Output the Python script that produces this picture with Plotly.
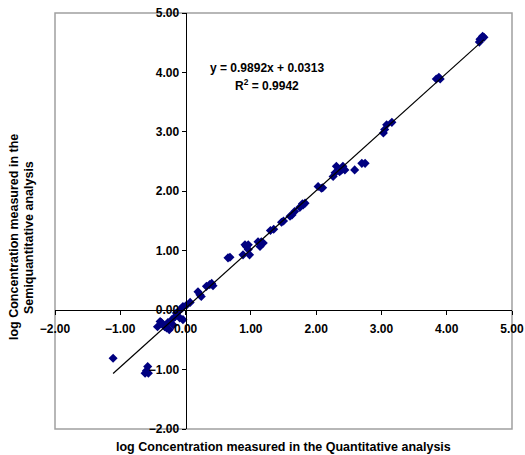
import plotly.graph_objects as go

# Data (log concentrations)
quant_x = [
    -1.11, -0.62, -0.57, -0.58, -0.60,
    -0.43, -0.39, -0.37, -0.32, -0.29, -0.27, -0.25, -0.21, -0.19, -0.16, -0.14,
    -0.09, -0.09, -0.06, -0.04, -0.04, 0.02, 0.07,
    0.19, 0.22, 0.24, 0.32, 0.37, 0.40, 0.42,
    0.65, 0.68, 0.88, 0.91, 0.93, 0.96, 0.96, 0.98, 1.11, 1.16, 1.14, 1.19,
    1.30, 1.35, 1.47, 1.50, 1.60, 1.63, 1.67, 1.75, 1.79, 1.80, 1.83,
    2.03, 2.08, 2.10, 2.26, 2.29, 2.31, 2.36, 2.39, 2.41, 2.44, 2.59, 2.70, 2.75,
    3.03, 3.05, 3.08, 3.16,
    3.84, 3.88, 3.90,
    4.50, 4.51, 4.55, 4.57,
]
semi_y = [
    -0.81, -1.06, -1.06, -0.95, -1.02,
    -0.28, -0.19, -0.21, -0.28, -0.30, -0.21, -0.33, -0.16, -0.25, -0.11, -0.05,
    0.00, -0.13, 0.03, 0.06, -0.16, 0.09, 0.13,
    0.31, 0.26, 0.23, 0.40, 0.43, 0.45, 0.41,
    0.88, 0.89, 0.93, 1.10, 1.07, 1.10, 1.02, 0.93, 1.15, 1.15, 1.07, 1.13,
    1.34, 1.36, 1.48, 1.50, 1.58, 1.60, 1.66, 1.73, 1.79, 1.77, 1.80,
    2.08, 2.05, 2.06, 2.25, 2.31, 2.42, 2.33, 2.36, 2.42, 2.36, 2.36, 2.47, 2.47,
    2.98, 3.04, 3.12, 3.16,
    3.89, 3.92, 3.89,
    4.51, 4.56, 4.61, 4.59,
]

slope = 0.9892
intercept = 0.0313
r_squared = 0.9942

tick_vals = [-2, -1, 0, 1, 2, 3, 4, 5]
tick_text = ["\u22122.00", "\u22121.00", "0.00", "1.00", "2.00", "3.00", "4.00", "5.00"]

x_title = "log Concentration measured in the Quantitative analysis"
y_title_1 = "log Concentration measured in the"
y_title_2 = "Semiquantitative analysis"

FONT = "Liberation Sans, Arial, sans-serif"

fig = go.Figure()

fig.add_trace(go.Scatter(
    x=quant_x, y=semi_y, mode="markers",
    marker=dict(symbol="diamond", size=7, color="#000080", line=dict(width=0)),
    showlegend=False,
))

x_lo, x_hi = min(quant_x), max(quant_x)
fig.add_trace(go.Scatter(
    x=[x_lo, x_hi], y=[slope * x_lo + intercept, slope * x_hi + intercept],
    mode="lines", line=dict(color="black", width=1.2), showlegend=False,
))

axis_common = dict(
    range=[-2, 5], tickvals=tick_vals, ticktext=tick_text,
    showgrid=False, zeroline=False, showline=True, linecolor="black", linewidth=1,
    ticks="outside", ticklen=4, tickcolor="black", tickwidth=1,
    tickfont=dict(family=FONT, size=12, color="black", weight="bold"),
    anchor="free", position=2 / 7, fixedrange=True, automargin=False,
    ticklabeloverflow="allow",
)

fig.update_layout(
    width=525, height=455,
    margin=dict(l=55, r=13, t=13, b=26, autoexpand=False),
    paper_bgcolor="white", plot_bgcolor="white",
    xaxis=dict(**axis_common, domain=[0, 1], ticklabelstandoff=3),
    yaxis=dict(**axis_common, domain=[0, 1]),
    font=dict(family=FONT, color="black"),
)

fig.add_shape(type="rect", xref="paper", yref="paper", x0=0, y0=0, x1=1, y1=1,
              line=dict(color="#a0a0a0", width=1.5), layer="below")

fig.add_annotation(x=1.245, y=4.08, xref="x", yref="y", showarrow=False,
                   text=f"y = {slope}x + {intercept}",
                   font=dict(family=FONT, size=12, color="black", weight="bold"))
fig.add_annotation(x=1.245, y=3.79, xref="x", yref="y", showarrow=False,
                   text=f"R<sup>2</sup> = {r_squared}",
                   font=dict(family=FONT, size=12, color="black", weight="bold"))

fig.add_annotation(x=0.5, y=-0.0433, xref="paper", yref="paper", showarrow=False,
                   text=x_title, xanchor="center", yanchor="middle",
                   font=dict(family=FONT, size=12.5, color="black", weight="bold"))
fig.add_annotation(x=-0.0897, y=0.4615, xref="paper", yref="paper", showarrow=False,
                   text=y_title_1, textangle=-90, xanchor="center", yanchor="middle",
                   font=dict(family=FONT, size=12.5, color="black", weight="bold"))
fig.add_annotation(x=-0.0569, y=0.4615, xref="paper", yref="paper", showarrow=False,
                   text=y_title_2, textangle=-90, xanchor="center", yanchor="middle",
                   font=dict(family=FONT, size=12.5, color="black", weight="bold"))

fig.write_html(
    "out.html",
    config={"displayModeBar": False},
    post_script="document.body.style.margin='0';document.body.style.overflow='hidden';",
)
